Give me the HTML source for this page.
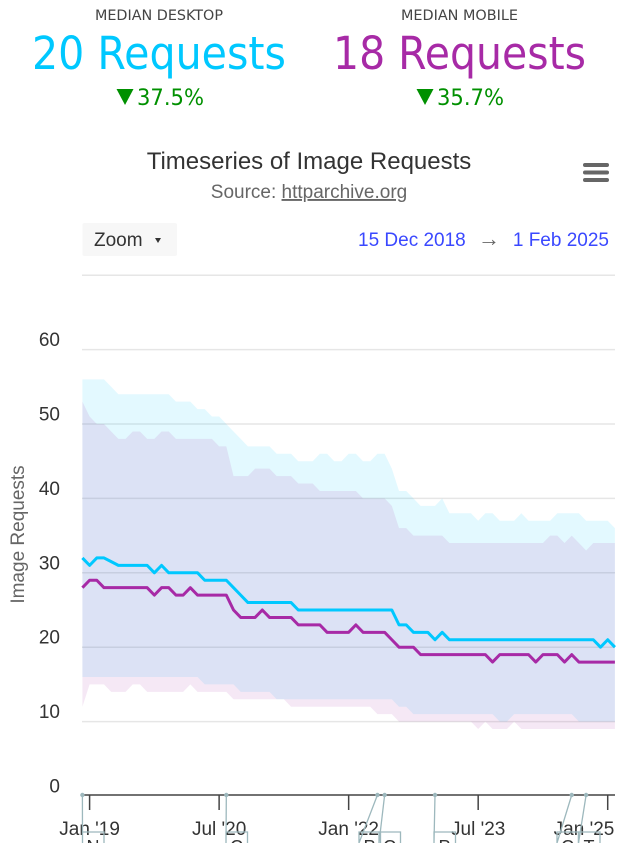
<!DOCTYPE html>
<html lang="en">
<head>
<meta charset="utf-8">
<title>Timeseries of Image Requests</title>
<style>
html,body{margin:0;padding:0;background:#fff;width:624px;height:843px;overflow:hidden}
svg{display:block;font-family:"Liberation Sans",sans-serif}
.hd{font-family:"DejaVu Sans","Liberation Sans",sans-serif}
</style>
</head>
<body>
<svg id="chart" xmlns="http://www.w3.org/2000/svg" width="624" height="843" viewBox="0 0 624 843">
  <g>
    <text class="hd" x="95" y="20" font-size="14.500" fill="#444" textLength="128" lengthAdjust="spacingAndGlyphs">MEDIAN DESKTOP</text>
    <text class="hd" x="32" y="69" font-size="45" fill="#00c8ff" textLength="254" lengthAdjust="spacingAndGlyphs">20 Requests</text>
    <polygon points="116.500,89 133.500,89 125,105" fill="#009000"/>
    <text class="hd" x="137" y="105" font-size="22" fill="#009000" textLength="67" lengthAdjust="spacingAndGlyphs">37.5%</text>
    <text class="hd" x="401" y="20" font-size="14.500" fill="#444" textLength="117" lengthAdjust="spacingAndGlyphs">MEDIAN MOBILE</text>
    <text class="hd" x="333" y="69" font-size="45" fill="#a72aa6" textLength="253" lengthAdjust="spacingAndGlyphs">18 Requests</text>
    <polygon points="416.500,89 433.500,89 425,105" fill="#009000"/>
    <text class="hd" x="437" y="105" font-size="22" fill="#009000" textLength="67" lengthAdjust="spacingAndGlyphs">35.7%</text>
  </g>
  <text x="309" y="169" font-size="24" fill="#333" text-anchor="middle">Timeseries of Image Requests</text>
  <text x="309" y="198" font-size="19" fill="#666" text-anchor="middle">Source: <tspan text-decoration="underline">httparchive.org</tspan></text>
  <g stroke="#666" stroke-width="4" stroke-linecap="round">
    <line x1="585" x2="607" y1="165" y2="165"/>
    <line x1="585" x2="607" y1="172.500" y2="172.500"/>
    <line x1="585" x2="607" y1="180" y2="180"/>
  </g>
  <g>
    <rect x="82.500" y="223" width="94.500" height="33" rx="2" fill="#f7f7f7"/>
    <text x="94" y="246" font-size="19" fill="#333">Zoom</text>
    <path d="M155 238h6l-3 5z" fill="#333"/>
  </g>
  <text x="358" y="246" font-size="19" fill="#3a48ff">15 Dec 2018</text>
  <text x="489" y="246" font-size="22" fill="#666" text-anchor="middle">→</text>
  <text x="609" y="246" font-size="19" fill="#3a48ff" text-anchor="end">1 Feb 2025</text>
  <text transform="translate(24,534.500) rotate(-90)" font-size="19" fill="#666" text-anchor="middle">Image Requests</text>
  <g id="grid"></g>
  <g id="yLabels"></g>
  <g id="bands"></g>
  <g id="lines"></g>
  <g id="xAxis"></g>
  <g id="flags"></g>
</svg>
<script>
const categories = ['Dec 18',
 'Jan 19','Feb 19','Mar 19','Apr 19','May 19','Jun 19','Jul 19','Aug 19','Sep 19','Oct 19','Nov 19','Dec 19',
 'Jan 20','Feb 20','Mar 20','Apr 20','May 20','Jun 20','Jul 20','Aug 20','Sep 20','Oct 20','Nov 20','Dec 20',
 'Jan 21','Feb 21','Mar 21','Apr 21','May 21','Jun 21','Jul 21','Aug 21','Sep 21','Oct 21','Nov 21','Dec 21',
 'Jan 22','Feb 22','Mar 22','Apr 22','May 22','Jun 22','Jul 22','Aug 22','Sep 22','Oct 22','Nov 22','Dec 22',
 'Jan 23','Feb 23','Mar 23','Apr 23','May 23','Jun 23','Jul 23','Aug 23','Sep 23','Oct 23','Nov 23','Dec 23',
 'Jan 24','Feb 24','Mar 24','Apr 24','May 24','Jun 24','Jul 24','Aug 24','Sep 24','Oct 24','Nov 24','Dec 24',
 'Jan 25','Feb 25'];
const desktopUpper = [56,56,56,56,55,54,54,54,54,54,54,54,54,53,53,53,52,52,51,51,50,49,48,47,47,47,47,46,46,46,45,45,45,46,46,45,45,46,46,45,45,46,46,44,41,41,40,39,39,39,40,38,38,38,38,37,38,38,37,37,37,38,37,37,37,37,38,38,38,38,37,37,37,37,36];
const mobileUpper = [53,51,50,50,49,48,48,49,49,48,48,49,49,48,48,48,48,48,48,47,47,43,43,43,44,44,44,43,43,43,42,42,42,41,41,41,41,41,41,40,40,40,40,39,36,36,35,35,35,35,35,34,34,34,34,34,34,34,34,34,34,34,34,34,34,35,35,34,35,34,33,34,34,34,34];
const desktopMedian = [32,31,32,32,31.5,31,31,31,31,31,30,31,30,30,30,30,30,29,29,29,29,28,27,26,26,26,26,26,26,26,25,25,25,25,25,25,25,25,25,25,25,25,25,25,23,23,22,22,22,21,22,21,21,21,21,21,21,21,21,21,21,21,21,21,21,21,21,21,21,21,21,21,20,21,20];
const mobileMedian = [28,29,29,28,28,28,28,28,28,28,27,28,28,27,27,28,27,27,27,27,27,25,24,24,24,25,24,24,24,24,23,23,23,23,22,22,22,22,23,22,22,22,22,21,20,20,20,19,19,19,19,19,19,19,19,19,19,18,19,19,19,19,19,18,19,19,19,18,19,18,18,18,18,18,18];
const desktopLower = [16,16,16,16,16,16,16,16,16,16,16,16,16,16,16,16,16,15,15,15,15,15,14,14,14,14,14,13,13,13,13,13,13,13,13,13,13,13,13,13,13,13,13,13,12,12,11,11,11,11,11,11,11,11,11,11,11,11,10,10,11,11,11,11,11,11,11,11,11,10,10,10,10,10,10];
const mobileLower = [12,15,15,15,14,14,14,15,15,14,14,14,14,14,14,15,14,14,14,14,14,13,13,13,13,13,13,13,13,12,12,12,12,12,12,12,12,12,12,12,12,11,11,11,10,10,10,10,10,10,10,10,10,10,10,9,10,9,9,9,10,9,9,9,9,9,9,9,9,9,9,9,9,9,9];
const yTicks = [10,20,30,40,50,60,70];
const yLabelValues = [0,10,20,30,40,50,60];
const xTickCategories = ['Jan 19','Jul 20','Jan 22','Jul 23','Jan 25'];
const xTickLabels = ["Jan '19","Jul '20","Jan '22","Jul '23","Jan '25"];
const flagCategories = ['Dec 18','Aug 20','May 22','Jun 22','Jan 23','Aug 24','Oct 24'];
const flagLetters = ['N','C','P','C','P','C','T'];

const NS = 'http://www.w3.org/2000/svg';
const x = i => 82.4 + 7.196 * i;
const y = v => 796 - 7.44 * v;
function make(tag, parent) {
  const el = document.createElementNS(NS, tag);
  parent.appendChild(el);
  return el;
}
const pt = (i, v) => x(i).toFixed(2) + ',' + y(v).toFixed(2);

const grid = document.getElementById('grid');
yTicks.forEach(v => {
  const l = make('line', grid);
  
  
  l.setAttribute('x1', 82);
  l.setAttribute('x2', 615);
  l.setAttribute('y1', y(v));
  l.setAttribute('y2', y(v));
  l.setAttribute('stroke', '#e6e6e6');
  l.setAttribute('stroke-width', 1.5);
});

const yLabels = document.getElementById('yLabels');
yLabelValues.forEach(v => {
  const t = make('text', yLabels);
  
  
  t.setAttribute('x', 60);
  t.setAttribute('y', y(v) - 3.5);
  t.setAttribute('font-size', 19);
  t.setAttribute('fill', '#333');
  t.setAttribute('text-anchor', 'end');
  t.textContent = v;
});

const bands = document.getElementById('bands');
function band(upper, lower, color) {
  const up = upper.map((v, i) => pt(i, v));
  const low = lower.map((v, i) => pt(i, v)).reverse();
  const p = make('polygon', bands);
  p.setAttribute('points', up.concat(low).join(' '));
  p.setAttribute('fill', color);
  p.setAttribute('fill-opacity', 0.11);
  return p;
}
const desktopBand = band(desktopUpper, desktopLower, '#00c8ff');


const mobileBand = band(mobileUpper, mobileLower, '#a72aa6');



const lines = document.getElementById('lines');
function median(values, color) {
  const p = make('polyline', lines);
  p.setAttribute('points', values.map((v, i) => pt(i, v)).join(' '));
  p.setAttribute('fill', 'none');
  p.setAttribute('stroke', color);
  p.setAttribute('stroke-width', 3);
  p.setAttribute('stroke-linejoin', 'round');
  return p;
}
const mobileLine = median(mobileMedian, '#a72aa6');


const desktopLine = median(desktopMedian, '#00c8ff');



const xAxis = document.getElementById('xAxis');
const axisLine = make('line', xAxis);


axisLine.setAttribute('x1', 82);
axisLine.setAttribute('x2', 615);
axisLine.setAttribute('y1', 795);
axisLine.setAttribute('y2', 795);
axisLine.setAttribute('stroke', '#444');
axisLine.setAttribute('stroke-width', 1.5);
xTickCategories.forEach((c, k) => {
  const px = x(categories.indexOf(c));
  const tick = make('line', xAxis);
  
  
  tick.setAttribute('x1', px);
  tick.setAttribute('x2', px);
  tick.setAttribute('y1', 795);
  tick.setAttribute('y2', 810);
  tick.setAttribute('stroke', '#444');
  tick.setAttribute('stroke-width', 1.5);
  const t = make('text', xAxis);
  
  
  t.setAttribute('y', 835);
  t.setAttribute('font-size', 19);
  t.setAttribute('fill', '#333');
  t.setAttribute('text-anchor', 'middle');
  t.setAttribute('x', Math.min(px, 584));
  t.textContent = xTickLabels[k];
});

const flags = document.getElementById('flags');
function drawFlag(k, boxLeft) {
  const px = x(categories.indexOf(flagCategories[k]));
  const g = make('g', flags);
  
  
  const box = make('path', g);
  box.setAttribute('d', 'M' + px + ' 795 L' + boxLeft + ' 843 M' + boxLeft + ' 843 V832 H' + (boxLeft + 21.5) + ' V843');
  box.setAttribute('fill', 'none');
  box.setAttribute('stroke', '#9db8bd');
  box.setAttribute('stroke-width', 1.3);
  const dot = make('circle', g);
  dot.setAttribute('cx', px);
  dot.setAttribute('cy', 795);
  dot.setAttribute('r', 2.2);
  dot.setAttribute('fill', '#9db8bd');
  const t = make('text', g);
  t.setAttribute('x', boxLeft + 10.5);
  t.setAttribute('y', 853);
  t.setAttribute('font-size', 18);
  t.setAttribute('fill', '#333');
  t.setAttribute('text-anchor', 'middle');
  t.textContent = flagLetters[k];
}
drawFlag(0, 82.5);
drawFlag(1, 226);
drawFlag(2, 359);
drawFlag(3, 379);
drawFlag(4, 434);
drawFlag(5, 557);
drawFlag(6, 578.5);
</script>
</body>
</html>
